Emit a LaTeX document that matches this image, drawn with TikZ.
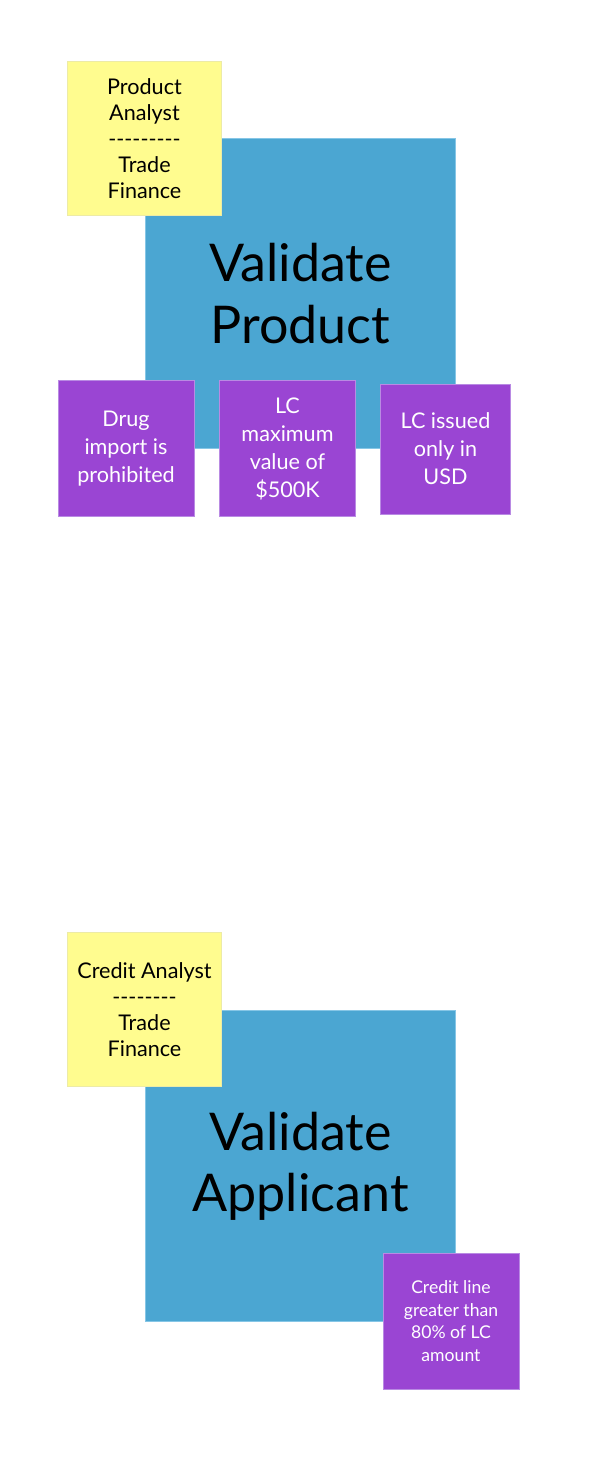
\documentclass[tikz,border=0pt]{standalone}
\usepackage{fontspec}
\setmainfont{Lato}
\definecolor{taskblue}{HTML}{4BA6D2}
\definecolor{taskedge}{HTML}{86C6E6}
\definecolor{notepurple}{HTML}{9A45D3}
\definecolor{noteedge}{HTML}{B98AE3}
\definecolor{roleyellow}{HTML}{FFFC8F}
\definecolor{roleedge}{HTML}{EDEBA6}
\tikzset{
  task/.style={fill=taskblue, draw=taskedge, line width=0.6pt, inner sep=0pt,
    minimum width=233pt, minimum height=233pt, align=center,
    font=\fontsize{39}{46}\selectfont},
  role/.style={fill=roleyellow, draw=roleedge, line width=0.6pt, inner sep=0pt,
    minimum width=116pt, minimum height=116pt, align=center,
    font=\fontsize{16.2}{19.5}\selectfont},
  rule/.style={fill=notepurple, draw=noteedge, line width=0.6pt, inner sep=0pt,
    minimum width=102pt, minimum height=102pt, align=center, text=white,
    font=\fontsize{16.2}{21}\selectfont},
}
\begin{document}
\begin{tikzpicture}[x=0.75pt, y=-0.75pt]
  \useasboundingbox (0,0) rectangle (590,1460);

  % Validate Product
  \node[task] (product) at (300.5, 293.5) {Validate\\Product};
  \node[role] (productrole) at (144.5, 138.5)
    {Product\\Analyst\\-{}-{}-{}-{}-{}-{}-{}-{}-\\Trade\\Finance};
  \node[rule] (drug) at (126, 448.5) {Drug\\import is\\prohibited};
  \node[rule] (maxvalue) at (287.5, 448.5) {LC\\maximum\\value of\\\$500K};
  \node[rule, minimum width=97.5pt, minimum height=97.5pt] (usd) at (445.5, 449)
    {LC issued\\only in\\USD};

  % Validate Applicant
  \node[task] (applicant) at (300.5, 1166) {Validate\\Applicant};
  \node[role] (applicantrole) at (144.5, 1009.5)
    {Credit Analyst\\-{}-{}-{}-{}-{}-{}-{}-\\Trade\\Finance};
  \node[rule, font=\fontsize{13.2}{17}\selectfont] (creditline) at (451, 1321)
    {Credit line\\greater than\\80\% of LC\\amount};
\end{tikzpicture}
\end{document}
